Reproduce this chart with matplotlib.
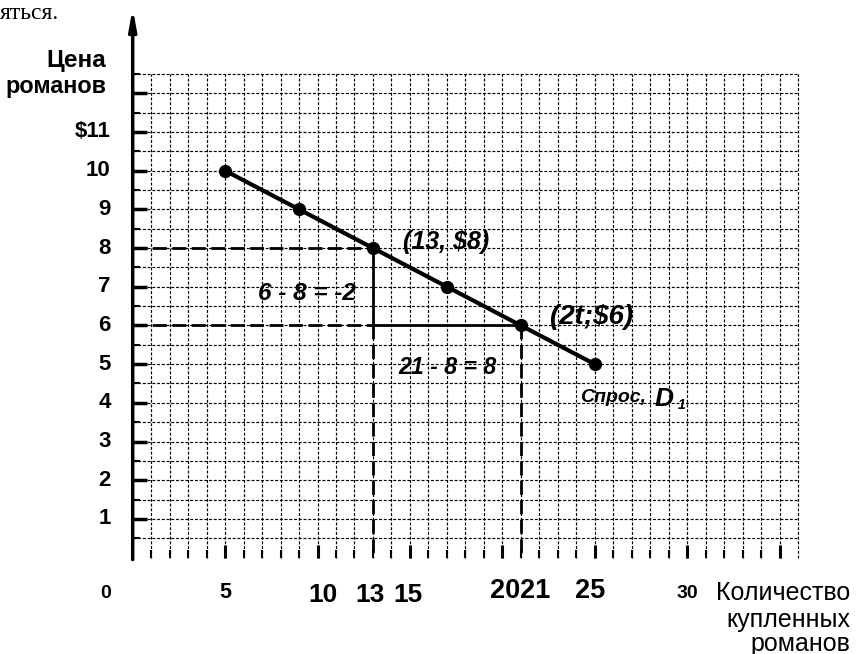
import numpy as np
import matplotlib
matplotlib.use("Agg")
import matplotlib.pyplot as plt

# demand schedule (quantity of novels, price)
quantity = [5, 9, 13, 17, 21, 25]
price = [10, 9, 8, 7, 6, 5]

point_a = (13, 8)
point_b = (21, 6)

y_tick_values = list(range(1, 12))
y_tick_labels = ["1", "2", "3", "4", "5", "6", "7", "8", "9", "10", "$11"]
x_tick_values = [0, 5, 10, 13, 15, 20, 21, 25, 30]
x_tick_labels = ["0", "5", "10", "13", "15", "20", "21", "25", "30"]

grid_x_max = 36
grid_y_max = 12.5

plt.rcParams['font.family'] = ['Liberation Sans', 'DejaVu Sans']

fig = plt.figure(figsize=(8.59, 6.54), dpi=100)
ax = fig.add_axes([0, 0, 1, 1])
ax.set_xlim(-7.18, 39.30)
ax.set_ylim(-2.49, 14.41)
ax.axis('off')

# graph paper grid
grid_ls = (0, (2.5, 1.5))
ax.vlines(np.arange(1, grid_x_max + 1), 0, grid_y_max, color='k', lw=0.85, linestyles=[grid_ls])
ax.hlines(np.arange(0.5, grid_y_max + 0.01, 0.5), 0, grid_x_max, color='k', lw=0.85, linestyles=[grid_ls])

# axes with arrows
ax.annotate('', xy=(0, 14.2), xytext=(0, -0.05),
            arrowprops=dict(arrowstyle='-|>,head_length=1.2,head_width=0.22', lw=2.5, color='k',
                            shrinkA=0, shrinkB=0))
ax.annotate('', xy=(39.35, 0), xytext=(-0.05, 0),
            arrowprops=dict(arrowstyle='-|>,head_length=0.7,head_width=0.3', lw=2.5, color='k',
                            shrinkA=0, shrinkB=0))

# ticks
ax.hlines(np.arange(1, 13), 0, 0.8, color='k', lw=2.5)
ax.hlines(np.arange(0.5, 12.6, 1), 0, 0.4, color='k', lw=1.5)
minor_x = [v for v in range(1, 36) if v % 5]
major_x = [v for v in range(1, 36) if v % 5 == 0]
ax.vlines(minor_x, 0, 0.2, color='k', lw=1.5)
ax.vlines(major_x, 0, 0.33, color='k', lw=2.2)

# helper lines
dash = (0, (5, 2))
ax.plot([0, point_a[0]], [point_a[1], point_a[1]], color='k', lw=2, linestyle=dash)
ax.plot([0, point_a[0]], [point_b[1], point_b[1]], color='k', lw=2, linestyle=dash)
ax.plot([point_a[0], point_b[0]], [point_b[1], point_b[1]], color='k', lw=2)
ax.plot([point_a[0], point_a[0]], [point_a[1], point_b[1]], color='k', lw=2)
ax.plot([point_a[0], point_a[0]], [point_b[1], 0], color='k', lw=2, linestyle=dash)
ax.plot([point_b[0], point_b[0]], [point_b[1], 0], color='k', lw=2, linestyle=dash)

# demand curve
ax.plot(quantity, price, '-o', color='k', lw=3, ms=8.5, zorder=5)

# y labels
for v, lab in zip(y_tick_values, y_tick_labels):
    ax.text(-1.2, v, lab, ha='right', va='center', fontsize=16, fontweight='bold')
ax.text(-1.45, 12.67, "Цена", ha='right', va='baseline', fontsize=17.5, fontweight='bold')
ax.text(-1.45, 12.0, "романов", ha='right', va='baseline', fontsize=16.8, fontweight='bold')

# x labels
x_style = {0: (-1.44, 'center', 14), 5: (5.0, 'center', 15.5), 10: (10.3, 'center', 19),
           13: (12.85, 'center', 19), 15: (14.9, 'center', 19), 20: (20.97, 'right', 19.5),
           21: (20.97, 'left', 19.5), 25: (24.75, 'center', 19.5), 30: (30.0, 'center', 14)}
for v, lab in zip(x_tick_values, x_tick_labels):
    xpos, ha, fs = x_style[v]
    yb = -1.15 if v in (10, 13, 15) else -1.05
    ax.text(xpos, yb, lab, ha=ha, va='baseline', fontsize=fs, fontweight='bold')

ax.text(38.84, -1.09, "Количество", ha='right', va='baseline', fontsize=18)
ax.text(38.84, -1.8, "купленных", ha='right', va='baseline', fontsize=18)
ax.text(38.84, -2.4, "романов", ha='right', va='baseline', fontsize=18)

# annotations
ax.text(14.63, 8.15, "(13, $8)", ha='left', va='center', fontsize=18, fontweight='bold', style='italic')
ax.text(6.79, 6.83, "6 - 8 = -2", ha='left', va='center', fontsize=17.5, fontweight='bold', style='italic')
ax.text(14.36, 4.92, "21 - 8 = 8", ha='left', va='center', fontsize=16.7, fontweight='bold', style='italic')
ax.text(22.59, 6.21, "(2t;$6)", ha='left', va='center', fontsize=20, fontweight='bold', style='italic')
ax.text(24.2, 4.15, "Спрос,", ha='left', va='center', fontsize=14, fontweight='bold', style='italic')
ax.text(28.25, 4.10, "D", ha='left', va='center', fontsize=19, fontweight='bold', style='italic')
ax.text(29.5, 3.95, "1", ha='left', va='center', fontsize=10, fontweight='bold', style='italic')

ax.text(-7.2, 14.05, "яться.", ha='left', va='center', fontsize=17, family='Liberation Serif')

fig.savefig("out.png", dpi=100)
